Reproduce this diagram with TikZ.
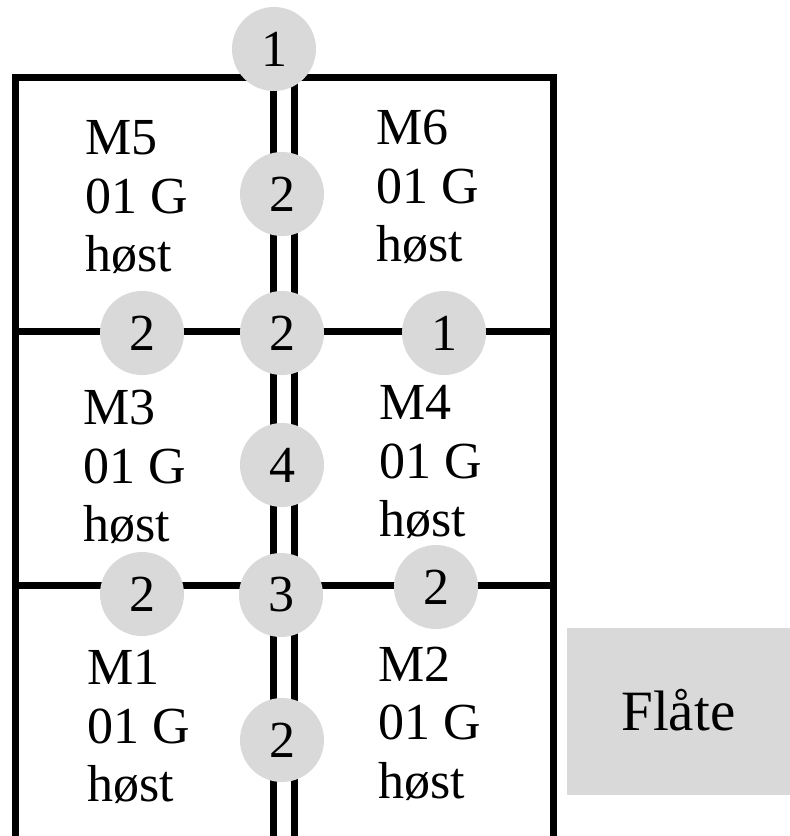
\documentclass[tikz,border=0pt]{standalone}
\usepackage{fontspec}
\setmainfont{Liberation Serif}
\definecolor{cellgray}{HTML}{D9D9D9}
\begin{document}
\begin{tikzpicture}[x=1pt,y=-1pt,
  wall/.style={line width=7pt},
  num/.style={circle, fill=cellgray, minimum size=84pt, inner sep=0pt, font=\fontsize{52}{58.5}\selectfont},
  cell/.style={anchor=base west, align=left, inner sep=0pt, font=\fontsize{52}{58.5}\selectfont},
  area/.style={rectangle, fill=cellgray, minimum width=223.3pt, minimum height=166.7pt, inner sep=0pt, text height=38pt, text depth=0pt, font=\fontsize{57}{60}\selectfont}]
\useasboundingbox (0,0) rectangle (790,836);
% grid coordinates
\coordinate (tl) at (15.5,77);
\coordinate (tr) at (553,77);
\coordinate (bl) at (15.5,845);
\coordinate (br) at (553,845);
\coordinate (ml) at (15.5,331);
\coordinate (mr) at (553,331);
\coordinate (ll) at (15.5,585);
\coordinate (lr) at (553,585);
\coordinate (d1t) at (273,77);
\coordinate (d1b) at (273,845);
\coordinate (d2t) at (294.5,77);
\coordinate (d2b) at (294.5,845);
% walls
\draw[wall, line join=miter] (bl) -- (tl) -- (tr) -- (br);
\draw[wall] (ml) -- (mr);
\draw[wall] (ll) -- (lr);
\draw[wall] (d1t) -- (d1b);
\draw[wall] (d2t) -- (d2b);
% numbered circles
\node[num] (n1) at (274,49) {1};
\node[num] (n2) at (282,194) {2};
\node[num] (n3) at (142,333) {2};
\node[num] (n4) at (282,333) {2};
\node[num] (n5) at (444,333) {1};
\node[num] (n6) at (282,465) {4};
\node[num] (n7) at (142,594) {2};
\node[num] (n8) at (281,595) {3};
\node[num] (n9) at (436,587) {2};
\node[num] (n10) at (282,740) {2};
% cell labels (anchor at baseline of last line)
\node[cell] (m5) at (85.5,271.7) {M5\\01 G\\høst};
\node[cell] (m6) at (376.5,261.7) {M6\\01 G\\høst};
\node[cell] (m3) at (82.8,541.7) {M3\\01 G\\høst};
\node[cell] (m4) at (379.5,536.7) {M4\\01 G\\høst};
\node[cell] (m1) at (86.8,801.7) {M1\\01 G\\høst};
\node[cell] (m2) at (377.8,798.3) {M2\\01 G\\høst};
% legend box
\node[area] (flate) at (678.3,711.7) {Flåte};
\end{tikzpicture}
\end{document}
